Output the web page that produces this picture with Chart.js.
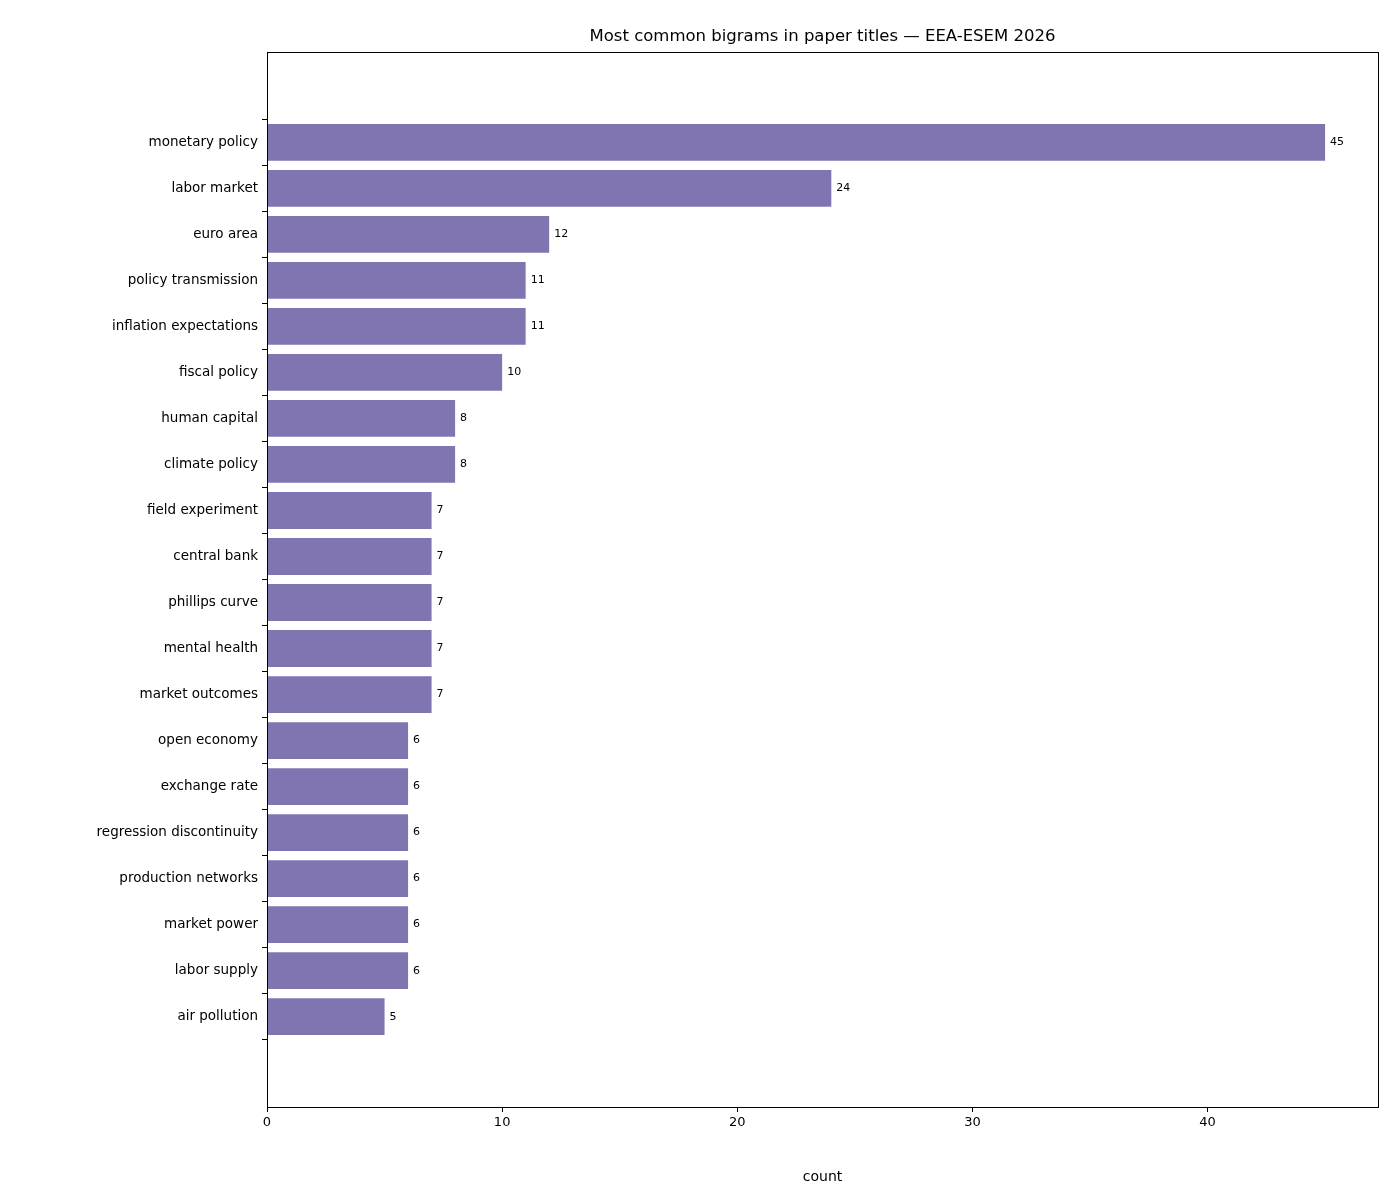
<!DOCTYPE html>
<html>
<head>
<meta charset="utf-8">
<script src="https://cdn.jsdelivr.net/npm/chart.js@4"></script>
<style>
  body { margin: 0; background: #fff; }
  #wrap { width: 1400px; height: 1190px; }
</style>
</head>
<body>
<div id="wrap"><canvas id="bigramChart"></canvas></div>
<script>
const bigrams = ["monetary policy", "labor market", "euro area", "policy transmission",
    "inflation expectations", "fiscal policy", "human capital", "climate policy",
    "field experiment", "central bank", "phillips curve", "mental health",
    "market outcomes", "open economy", "exchange rate", "regression discontinuity",
    "production networks", "market power", "labor supply", "air pollution"];
const counts = [45, 24, 12, 11, 11, 10, 8, 8, 7, 7, 7, 7, 7, 6, 6, 6, 6, 6, 6, 5];
const xTicks = [0, 10, 20, 30, 40];

const FONT = "'DejaVu Sans', sans-serif";

// title, frame and value labels
const extras = {
    id: "extras",
    afterDraw(chart) {
        const { ctx, chartArea: a, scales } = chart;
        ctx.save();
        ctx.strokeStyle = "#000";
        ctx.lineWidth = 1;
        ctx.strokeRect(a.left + 0.5, a.top + 0.5, a.right - a.left, a.bottom - a.top);

        ctx.fillStyle = "#000";
        ctx.font = "16.5px " + FONT;
        ctx.textAlign = "center";
        ctx.textBaseline = "alphabetic";
        ctx.fillText("Most common bigrams in paper titles \u2014 EEA-ESEM 2026", (a.left + a.right) / 2, 41);

        ctx.font = "11px " + FONT;
        ctx.textAlign = "left";
        ctx.textBaseline = "middle";
        counts.forEach((v, i) => {
            ctx.fillText(String(v), scales.x.getPixelForValue(v) + 5, scales.y.getPixelForValue(i));
        });
        ctx.restore();
    }
};

new Chart(document.getElementById("bigramChart"), {
    type: "bar",
    data: {
        datasets: [{
            data: counts.map((v, i) => ({ x: v, y: i })),
            backgroundColor: "#8175b1",
            barPercentage: 0.8,
            categoryPercentage: 1
        }]
    },
    options: {
        indexAxis: "y",
        responsive: true,
        maintainAspectRatio: false,
        animation: false,
        layout: { padding: { top: 52, right: 22, left: 0, bottom: 0 } },
        plugins: { legend: { display: false }, tooltip: { enabled: false } },
        scales: {
            x: {
                type: "linear",
                min: 0,
                max: 47.25,
                afterBuildTicks: s => { s.ticks = xTicks.map(v => ({ value: v })); },
                grid: { drawOnChartArea: false, tickLength: 5, color: "#000" },
                border: { display: false },
                ticks: { color: "#000", font: { family: FONT, size: 13 }, padding: 3 },
                title: { display: true, text: "count", color: "#000", font: { family: FONT, size: 14 }, padding: { top: 8 } },
                afterFit: s => { s.height = 83; }
            },
            y: {
                type: "linear",
                reverse: true,
                min: -1.39,
                max: 20.39,
                afterBuildTicks: s => { s.ticks = bigrams.map((b, i) => ({ value: i })); },
                grid: { drawOnChartArea: false, tickLength: 5, color: "#000" },
                border: { display: false },
                ticks: {
                    color: "#000",
                    font: { family: FONT, size: 13.5 },
                    padding: 4,
                    callback: v => bigrams[v]
                },
                afterFit: s => { s.width = 267; }
            }
        }
    },
    plugins: [extras]
});
</script>
</body>
</html>
